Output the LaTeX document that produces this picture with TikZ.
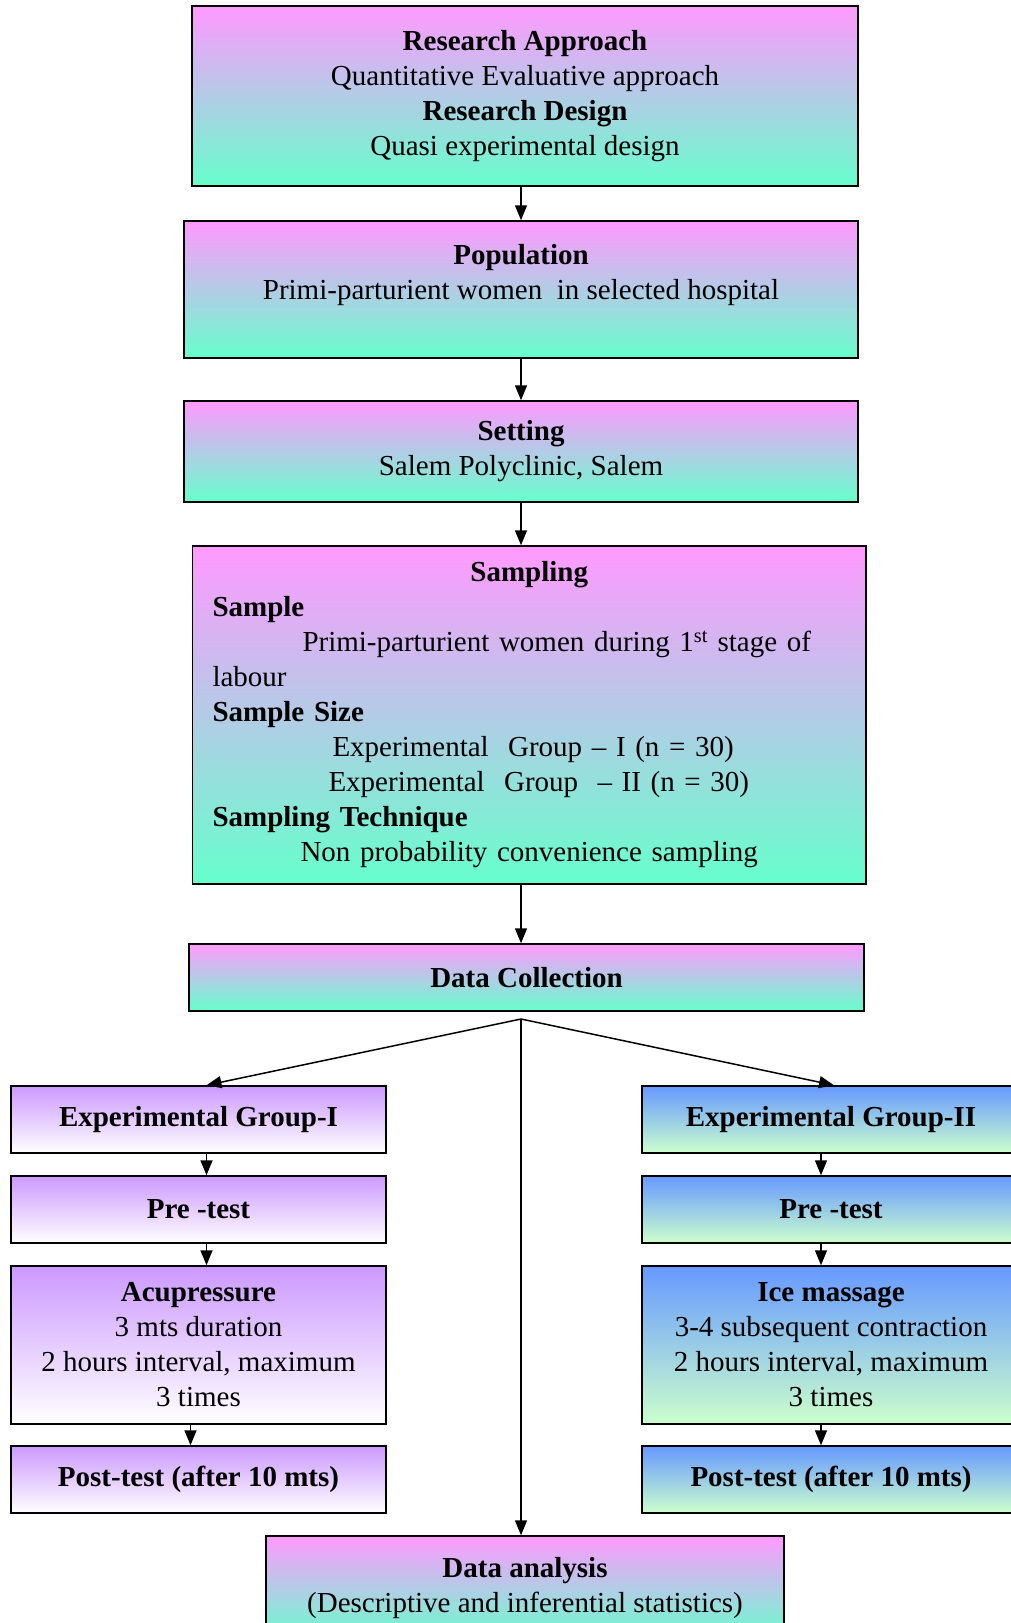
\documentclass[tikz,border=0pt]{standalone}
\usepackage{fontspec}
\setmainfont{Liberation Serif}
\usetikzlibrary{arrows.meta, calc}

\definecolor{mpink}{HTML}{FF99FF}
\definecolor{maqua}{HTML}{66FFCC}
\definecolor{gpurple}{HTML}{CC99FF}
\definecolor{gblue}{HTML}{6699FF}
\definecolor{glgreen}{HTML}{CCFFCC}

\tikzset{
	box/.style={draw, line width=1.5pt, rectangle, align=center, inner sep=0pt},
	mainbox/.style={box, top color=mpink, bottom color=maqua},
	grpone/.style={box, top color=gpurple, bottom color=white},
	grptwo/.style={box, top color=gblue, bottom color=glgreen},
	flow/.style={line width=1.5pt, -{Triangle[length=15pt,width=12pt]}}
}

\begin{document}
\begin{tikzpicture}[x=1pt, y=-1pt, font=\fontsize{29}{35}\selectfont]
	\useasboundingbox (0,0) rectangle (1010,1623);
	
	% Main column
	\node[mainbox, minimum width=666pt, minimum height=180pt] (res) at (525,96)
		{\textbf{Research Approach}\\Quantitative Evaluative approach\\\textbf{Research Design}\\Quasi experimental design};
	\node[mainbox, minimum width=674pt, minimum height=137pt] (pop) at (521,289.5)
		{\textbf{Population}\\Primi-parturient women \ in selected hospital\\~};
	\node[mainbox, minimum width=674pt, minimum height=101pt] (set) at (521,451.5)
		{\textbf{Setting}\\Salem Polyclinic, Salem};
	\node[mainbox, minimum width=673.5pt, minimum height=338pt, align=left,
		text width=633.5pt, inner xsep=20pt] (samp) at (529.25,715)
		{\hfill\textbf{Sampling}\hfill\null\\
		\textbf{Sample}\\
		\hspace*{90pt}Primi-parturient women during 1\textsuperscript{st} stage of\\
		labour\\
		\textbf{Sample Size}\\
		\hspace*{120pt}Experimental \ Group -- I (n = 30)\\
		\hspace*{116pt}Experimental \ Group \ -- II (n = 30)\\
		\textbf{Sampling Technique}\\
		\hspace*{88pt}Non probability convenience sampling};
	\node[mainbox, minimum width=675pt, minimum height=67pt] (dc) at (526.5,977.5)
		{\textbf{Data Collection}};
	
	% Experimental group I
	\node[grpone, minimum width=375pt, minimum height=67pt] (eg1) at (198.5,1119.5)
		{\textbf{Experimental Group-I}};
	\node[grpone, minimum width=375pt, minimum height=67pt] (pre1) at (198.5,1209.5)
		{\textbf{Pre -test}};
	\node[grpone, minimum width=375pt, minimum height=158pt] (acu) at (198.5,1345)
		{\textbf{Acupressure}\\3 mts duration\\2 hours interval, maximum\\3 times};
	\node[grpone, minimum width=375pt, minimum height=67pt] (post1) at (198.5,1479.5)
		{\textbf{Post-test (after 10 mts)}};
	
	% Experimental group II
	\node[grptwo, minimum width=378pt, minimum height=67pt] (eg2) at (831,1119.5)
		{\textbf{Experimental Group-II}};
	\node[grptwo, minimum width=378pt, minimum height=67pt] (pre2) at (831,1209.5)
		{\textbf{Pre -test}};
	\node[grptwo, minimum width=378pt, minimum height=158pt] (ice) at (831,1345)
		{\textbf{Ice massage}\\3-4 subsequent contraction\\2 hours interval, maximum\\3 times};
	\node[grptwo, minimum width=378pt, minimum height=67pt] (post2) at (831,1479.5)
		{\textbf{Post-test (after 10 mts)}};
	
	% Analysis
	\node[mainbox, minimum width=518pt, minimum height=104pt] (da) at (525,1588)
		{\textbf{Data analysis}\\(Descriptive and inferential statistics)};
	
	% Arrows
	\draw[flow] (res.south -| pop.north) -- (pop.north);
	\draw[flow] (pop) -- (set);
	\draw[flow] (set.south) -- (set.south |- samp.north);
	\draw[flow] (samp.south -| set) -- (dc.north -| set);
	\coordinate (split) at (521,1019);
	\draw[flow] (split) -- ([xshift=8pt]eg1.north);
	\draw[flow] (split) -- ([xshift=3pt]eg2.north);
	\draw[flow] (split) -- (split |- da.north);
	\draw[flow] ([xshift=8pt]eg1.south) -- ([xshift=8pt]pre1.north);
	\draw[flow] ([xshift=8pt]pre1.south) -- ([xshift=8pt]acu.north);
	\draw[flow] ([xshift=-8pt]acu.south) -- ([xshift=-8pt]post1.north);
	\draw[flow] ([xshift=-10pt]eg2.south) -- ([xshift=-10pt]pre2.north);
	\draw[flow] ([xshift=-10pt]pre2.south) -- ([xshift=-10pt]ice.north);
	\draw[flow] ([xshift=-10pt]ice.south) -- ([xshift=-10pt]post2.north);
	
\end{tikzpicture}
\end{document}
